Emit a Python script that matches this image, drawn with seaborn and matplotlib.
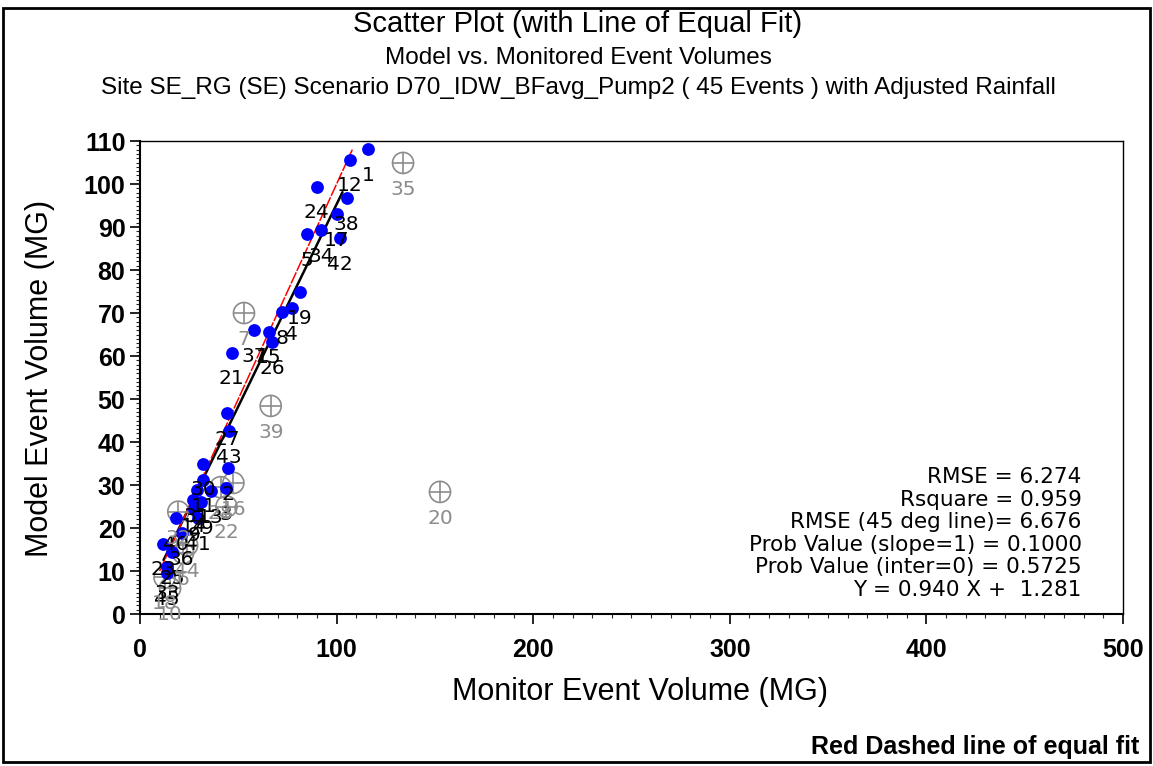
import numpy as np
import pandas as pd
import matplotlib
matplotlib.use("Agg")
import matplotlib.pyplot as plt
import seaborn as sns
from matplotlib.ticker import MultipleLocator

# ---- data ----
inc_labels = ["1", "12", "24", "38", "17", "34", "5", "42", "19", "4", "8",
              "37", "15", "26", "21", "27", "43", "30", "2", "11", "31", "14",
              "3", "41", "40", "36", "23", "45", "9", "13", "25", "29", "33"]
inc_monitor = [116.0, 106.8, 89.9, 105.1, 100.0, 92.1, 84.8, 101.7, 81.4, 77.2, 72.1,
               58.2, 65.6, 67.3, 46.6, 44.4, 45.4, 32.2, 44.9, 32.2, 28.8, 27.1,
               43.7, 29.7, 18.3, 21.2, 11.9, 13.5, 27.5, 36.0, 16.5, 31.0, 14.0]
inc_model = [108.1, 105.7, 99.4, 96.8, 93.0, 89.3, 88.3, 87.4, 74.8, 71.2, 70.3,
             66.0, 65.7, 63.2, 60.8, 46.7, 42.6, 35.0, 33.9, 31.2, 28.8, 26.5,
             29.2, 22.3, 22.3, 18.8, 16.4, 9.5, 24.5, 28.5, 14.5, 26.0, 11.0]

exc_labels = ["35", "7", "39", "20", "16", "28", "22", "32", "6", "10", "18", "44"]
exc_monitor = [133.8, 52.9, 66.5, 152.6, 47.5, 41.0, 44.0, 19.5, 21.9, 15.3, 12.5, 24.0]
exc_model = [104.9, 70.0, 48.4, 28.4, 30.5, 29.5, 25.0, 23.8, 14.2, 6.0, 8.5, 16.0]

fit_slope = 0.940
fit_intercept = 1.281
fit_range = [12.0, 103.0]
equal_range = [10.0, 108.0]

stats_lines = ["RMSE = 6.274", "Rsquare = 0.959", "RMSE (45 deg line)= 6.676",
               "Prob Value (slope=1) = 0.1000", "Prob Value (inter=0) = 0.5725",
               "Y = 0.940 X +  1.281"]

x_ticks = [0, 100, 200, 300, 400, 500]
y_ticks = list(range(0, 111, 10))

inc = pd.DataFrame({"monitor": inc_monitor, "model": inc_model, "label": inc_labels})
exc = pd.DataFrame({"monitor": exc_monitor, "model": exc_model, "label": exc_labels})

# ---- style ----
sns.set_style("white")
plt.rcParams["font.family"] = ["Liberation Sans", "DejaVu Sans"]
plt.rcParams["text.color"] = "black"
plt.rcParams["axes.labelcolor"] = "black"

fig = plt.figure(figsize=(11.53, 7.66), dpi=100)
ax = fig.add_axes([0.1214, 0.1984, 0.8526, 0.6175])

# lines
fx = np.array(fit_range)
ax.plot(fx, fit_slope * fx + fit_intercept, color="black", lw=1.8, zorder=2)
ex = np.array(equal_range)
ax.plot(ex, ex, color="red", lw=1.1, ls=(0, (8, 1)), zorder=3)

# points
gray = "#8c8c8c"
sns.scatterplot(data=exc, x="monitor", y="model", ax=ax, marker="o", s=230,
                facecolor="none", edgecolor=gray, linewidth=1.2, zorder=4)
sns.scatterplot(data=exc, x="monitor", y="model", ax=ax, marker="+", s=230,
                color=gray, linewidth=1.2, zorder=4)
sns.scatterplot(data=inc, x="monitor", y="model", ax=ax, marker="o", s=85,
                color="#0000ff", edgecolor="#0000ff", linewidth=0, zorder=5)

for _, r in inc.iterrows():
    ax.annotate(r["label"], (r["monitor"], r["model"]), xytext=(0, -19),
                textcoords="offset points", ha="center", va="center",
                fontsize=14.5, color="black", family="DejaVu Sans", zorder=6)
for _, r in exc.iterrows():
    ax.annotate(r["label"], (r["monitor"], r["model"]), xytext=(0, -19),
                textcoords="offset points", ha="center", va="center",
                fontsize=14.5, color=gray, family="DejaVu Sans", zorder=6)

# axes
ax.set_xlim(0, 500)
ax.set_ylim(0, 110)
ax.set_xticks(x_ticks)
ax.set_yticks(y_ticks)
ax.xaxis.set_minor_locator(MultipleLocator(10))
ax.yaxis.set_minor_locator(MultipleLocator(1))
ax.tick_params(axis="both", which="major", direction="out", length=7, width=1.2,
               labelsize=18, colors="black", left=True, bottom=True)
ax.tick_params(axis="x", which="major", pad=10)
ax.tick_params(axis="both", which="minor", direction="out", length=3, width=0.8,
               left=True, bottom=True)
for lab in ax.get_xticklabels() + ax.get_yticklabels():
    lab.set_fontweight("bold")
for s in ax.spines.values():
    s.set_color("black")
    s.set_linewidth(1.0)
ax.spines["left"].set_linewidth(1.5)
ax.spines["bottom"].set_linewidth(1.5)

ax.set_xlabel("Monitor Event Volume (MG)", fontsize=22, va="center", color="black")
ax.set_ylabel("Model Event Volume (MG)", fontsize=22, va="center", color="black")
ax.xaxis.set_label_coords(0.5086, -0.165)
ax.yaxis.set_label_coords(-0.1017, 0.499)

# stats text
y0 = 0.2896
for i, line in enumerate(stats_lines):
    ax.text(0.958, y0 - i * 0.0478, line, transform=ax.transAxes, ha="right",
            va="center", fontsize=15.5, family="DejaVu Sans", color="black")

# titles
fig.text(0.5013, 0.969, "Scatter Plot (with Line of Equal Fit)", ha="center",
         va="center", fontsize=21, color="black")
fig.text(0.5013, 0.924, "Model vs. Monitored Event Volumes", ha="center",
         va="center", fontsize=17.5, color="black")
fig.text(0.5013, 0.885,
         "Site SE_RG (SE) Scenario D70_IDW_BFavg_Pump2 ( 45 Events ) with Adjusted Rainfall",
         ha="center", va="center", fontsize=17.5, color="black")
fig.text(0.988, 0.025, "Red Dashed line of equal fit", ha="right", va="center",
         fontsize=18, fontweight="bold", color="black")

# figure border
fig.add_artist(plt.Rectangle((0.003, 0.005), 0.994, 0.985, transform=fig.transFigure,
                             fill=False, edgecolor="black", linewidth=2))

fig.savefig("out.png", dpi=100)
